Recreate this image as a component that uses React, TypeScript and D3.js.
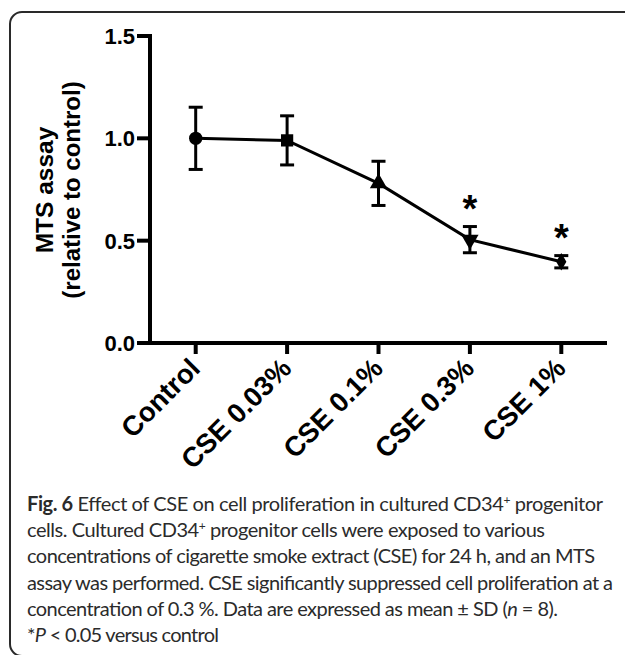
import React from "react";
import * as d3 from "d3";

// values
const categories = ["Control", "CSE 0.03%", "CSE 0.1%", "CSE 0.3%", "CSE 1%"];
const means = [1.0, 0.99, 0.78, 0.505, 0.397];
const sds = [0.152, 0.12, 0.108, 0.064, 0.03];
const significant = [false, false, false, true, true];
const yTicks = [0, 0.5, 1.0, 1.5];
const yTitle = ["MTS assay", "(relative to control)"];

// caption, one entry per line: [text, style]
const captionLines: [string, string][][] = [
  [["Fig. 6", "b"], [" Effect of CSE on cell proliferation in cultured CD34", ""], ["+", "sup"], [" progenitor", ""]],
  [["cells. Cultured CD34", ""], ["+", "sup"], [" progenitor cells were exposed to various", ""]],
  [["concentrations of cigarette smoke extract (CSE) for 24 h, and an MTS", ""]],
  [["assay was performed. CSE significantly suppressed cell proliferation at a", ""]],
  [["concentration of 0.3 %. Data are expressed as mean \u00b1 SD (", ""], ["n", "i"], [" = 8).", ""]],
  [["*", ""], ["P", "i"], [" < 0.05 versus control", ""]],
];
const captionWidths = [576, 518, 568, 586, 531, 192];

const W = 625;
const H = 655;
const x0 = 150, x1 = 607;
const yTop = 36, yBottom = 343;
const chartFont = "'Liberation Sans', Arial, sans-serif";

export default function App() {
  const x = d3.scalePoint<string>().domain(categories).range([x0, x1]).padding(0.5);
  const y = d3.scaleLinear().domain([0, 1.5]).range([yBottom, yTop]);

  const line = d3
    .line<number>()
    .x((_, i) => x(categories[i]) as number)
    .y((d) => y(d));

  const shapes = [
    d3.symbol(d3.symbolCircle, 140)(),
    d3.symbol(d3.symbolSquare, 150)(),
    d3.symbol(d3.symbolTriangle, 130)(),
    d3.symbol(d3.symbolTriangle, 130)(),
    d3.symbol(d3.symbolDiamond, 90)(),
  ];
  const rotations = [0, 0, 0, 180, 0];

  return (
    <svg
      width={W}
      height={H}
      style={{ position: "absolute", left: 0, top: 0, background: "#fff" }}
    >
      <rect x={10} y={12} width={660} height={644} rx={12} fill="none" stroke="#2a2a2a" strokeWidth={2} />

      {/* y axis */}
      <line x1={x0} x2={x0} y1={yTop - 2} y2={yBottom + 2} stroke="#000" strokeWidth={4} />
      {yTicks.map((t) => (
        <g key={t}>
          <line x1={x0 - 13} x2={x0} y1={y(t)} y2={y(t)} stroke="#000" strokeWidth={4} />
          <text
            x={x0 - 15}
            y={y(t)}
            dy="0.36em"
            textAnchor="end"
            fontFamily={chartFont}
            fontWeight="bold"
            fontSize={22}
          >
            {t.toFixed(1)}
          </text>
        </g>
      ))}
      <text transform={`translate(53,190) rotate(-90)`} textAnchor="middle" fontFamily={chartFont} fontWeight="bold" fontSize={24.5}>
        {yTitle[0]}
      </text>
      <text transform={`translate(80,190) rotate(-90)`} textAnchor="middle" fontFamily={chartFont} fontWeight="bold" fontSize={24}>
        {yTitle[1]}
      </text>

      {/* x axis */}
      <line x1={x0 - 2} x2={x1} y1={yBottom} y2={yBottom} stroke="#000" strokeWidth={4} />
      {categories.map((c) => (
        <g key={c}>
          <line x1={x(c)} x2={x(c)} y1={yBottom} y2={yBottom + 11} stroke="#000" strokeWidth={4} />
          <text
            transform={`translate(${(x(c) as number) + 6},370) rotate(-45)`}
            textAnchor="end"
            fontFamily={chartFont}
            fontWeight="bold"
            fontSize={27.5}
          >
            {c}
          </text>
        </g>
      ))}

      {/* data */}
      <path d={line(means) || ""} fill="none" stroke="#000" strokeWidth={3} />
      {categories.map((c, i) => {
        const cx = x(c) as number;
        return (
          <g key={c}>
            <line x1={cx} x2={cx} y1={y(means[i] - sds[i])} y2={y(means[i] + sds[i])} stroke="#000" strokeWidth={3} />
            <line x1={cx - 7} x2={cx + 7} y1={y(means[i] + sds[i])} y2={y(means[i] + sds[i])} stroke="#000" strokeWidth={3} />
            <line x1={cx - 7} x2={cx + 7} y1={y(means[i] - sds[i])} y2={y(means[i] - sds[i])} stroke="#000" strokeWidth={3} />
            <path
              d={shapes[i] || ""}
              transform={`translate(${cx},${y(means[i])}) rotate(${rotations[i]})`}
              fill="#000"
            />
            {significant[i] && (
              <text
                x={cx}
                y={y(means[i] + sds[i]) - 5}
                textAnchor="middle"
                fontFamily={chartFont}
                fontWeight="bold"
                fontSize={38}
              >
                *
              </text>
            )}
          </g>
        );
      })}

      {/* caption */}
      {captionLines.map((segs, li) => (
        <text
          key={li}
          x={27}
          y={511 + li * 26.2}
          fontFamily="Lato, 'Open Sans', sans-serif"
          fontSize={20}
          fill="#2b2b2b"
          textLength={captionWidths[li]}
          lengthAdjust="spacing"
        >
          {segs.map(([t, s], si) => {
            if (s === "sup")
              return (
                <tspan key={si} fontSize={12} baselineShift="super">
                  {t}
                </tspan>
              );
            return (
              <tspan key={si} fontWeight={s === "b" ? "bold" : "normal"} fontStyle={s === "i" ? "italic" : "normal"}>
                {t}
              </tspan>
            );
          })}
        </text>
      ))}
    </svg>
  );
}
